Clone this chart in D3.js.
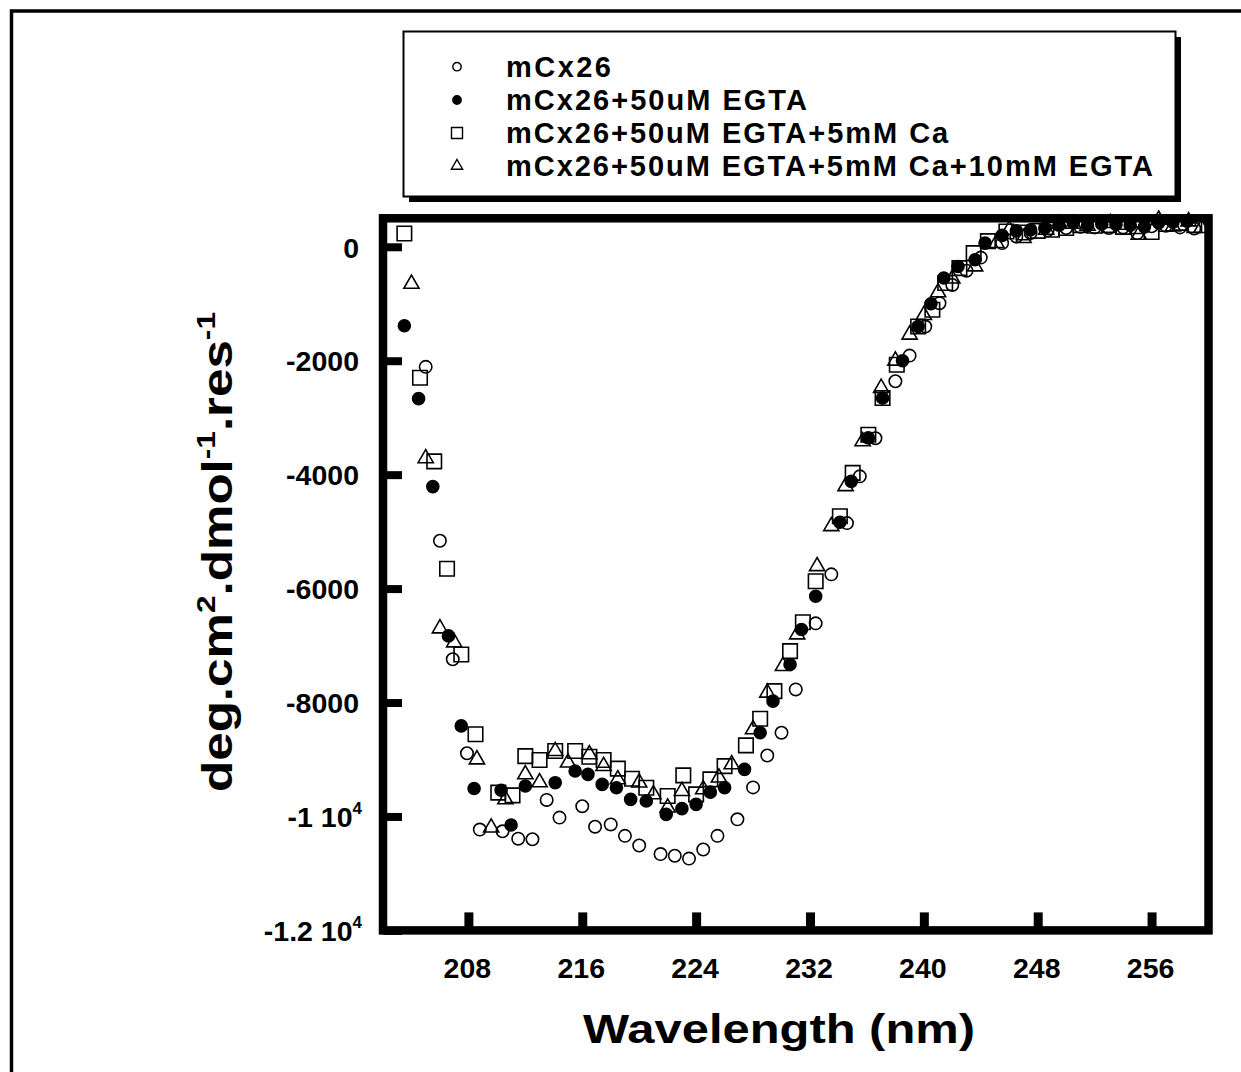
<!DOCTYPE html>
<html><head><meta charset="utf-8">
<script src="https://cdn.jsdelivr.net/npm/d3@7"></script>
<style>
html,body{margin:0;padding:0;background:#fff;}
svg{display:block;font-family:"Liberation Sans",Arial,Helvetica,sans-serif;font-weight:bold;}
</style></head><body>
<svg id="chart" width="1241" height="1072"></svg>
<script>
// CD spectra of mCx26 under four buffer conditions (mean residue ellipticity)
const seriesNames = [
  "mCx26",
  "mCx26+50uM EGTA",
  "mCx26+50uM EGTA+5mM Ca",
  "mCx26+50uM EGTA+5mM Ca+10mM EGTA"
];

const wlA = [205,206,206.9,207.9,208.8,210.4,211.5,212.5,213.5,214.4,216,216.9,218,219,220,221.5,222.5,223.5,224.5,225.5,226.9,228,229,230,231,232.4,233.5,234.6,235.5,236.6,238,239,240.1,241.1,242,243,244,245.5,246.5,247.5,248.7,250,251,252,253,254,255,256,257,258,259];
const valA = [-2108,-5160,-7240,-8890,-10230,-10260,-10390,-10400,-9710,-10020,-9820,-10180,-10140,-10340,-10510,-10660,-10690,-10740,-10580,-10340,-10050,-9490,-8930,-8530,-7770,-6610,-5750,-4850,-4030,-3360,-2360,-1910,-1400,-990,-670,-420,-190,65,180,240,290,330,350,340,330,340,240,360,370,340,320];

const wlB = [203.5,204.5,205.5,206.6,207.5,208.4,210.3,211,212,214.1,215.5,216.4,217.4,218.4,219.4,220.5,221.9,223,224,225,226,227.4,228.5,229.4,230.6,231.4,232.4,234.1,234.9,236.1,237.1,238.5,239.6,240.5,241.4,242.4,243.6,244.3,245.5,246.5,247.5,248.5,249.5,250.5,251.5,252.5,253.5,254.5,255.5,256.5,257.5,258.5];
const valB = [-1386,-2666,-4210,-6830,-8410,-9510,-9540,-10150,-9466,-9407,-9203,-9261,-9437,-9495,-9700,-9729,-9963,-9863,-9787,-9572,-9494,-9173,-8530,-7975,-7332,-6718,-6134,-4836,-4117,-3355,-2654,-2000,-1398,-1000,-549,-346,-228,65,200,280,300,330,380,420,380,400,390,380,350,420,430,450];

const wlC = [203.5,204.6,205.6,206.5,207.5,208.5,210.1,211.1,212,213,214.1,215.5,216.5,217.5,218.5,219.5,220.5,222,223.1,224,225,226,227.5,228.5,229.5,230.6,231.5,232.4,234.1,235,236.1,237.1,238.1,239.6,240.6,241.5,242.5,243.5,244.5,245.8,247,248,249,250,251,252,253,254,255,256,257,258,259];
const valC = [233,-2298,-3766,-5651,-7156,-8556,-9582,-9629,-8940,-9010,-8852,-8852,-8951,-9010,-9161,-9337,-9495,-9642,-9279,-9612,-9349,-9116,-8752,-8284,-7800,-7098,-6590,-5871,-4731,-3969,-3300,-2654,-2070,-1398,-1105,-637,-374,-111,100,268,250,280,300,330,380,370,380,350,360,260,400,420,380];

const wlD = [204,205,206,207,208.6,209.6,210.6,212,213,214.1,215,216.5,217.5,218.5,220,221,222,223,224.5,225.6,226.5,228,229,230.1,231.1,232.5,233.5,234.5,235.7,237,238,239,240,241,242,243.6,245.1,246,247,248.6,249.5,250.5,251.5,253.1,254,255.1,256.5,257.5,258.6,259.5];
const valD = [-652,-3713,-6700,-6946,-9000,-10196,-9700,-9261,-9402,-8852,-9056,-8910,-9116,-9349,-9407,-9612,-9845,-9554,-9524,-9319,-9086,-8472,-7828,-7362,-6806,-5608,-4906,-4204,-3415,-2478,-2000,-1544,-1200,-800,-560,-346,65,298,153,298,403,403,368,416,386,210,474,356,444,328];

const xTickValues = [208,216,224,232,240,248,256];
const yTickValues = [0,-2000,-4000,-6000,-8000,-10000,-12000];
const yTickLabels = ["0","-2000","-4000","-6000","-8000","-1 10^4","-1.2 10^4"];

const xTitle = "Wavelength (nm)";
// y title pieces: [text, isSuperscript]
const yTitleParts = [["deg.cm",false],["2",true],[".dmol",false],["-1",true],[".res",false],["-1",true]];

const svg = d3.select("#chart");

const x = d3.scaleLinear().domain([202, 260]).range([383, 1208.5]);
const y = d3.scaleLinear().domain([-12000, 500]).range([930.4, 218.3]);

// outer frame of the figure
svg.append("rect").attr("x", 11.5).attr("y", 11).attr("width", 1400).attr("height", 1400)
  .attr("fill", "none").attr("stroke", "#000").attr("stroke-width", 3.5);

// set the rendered length of a text element
function fitLength(sel, len, mode) {
  sel.attr("textLength", len).attr("lengthAdjust", mode || "spacing");
}

// data
const symGen = {
  circle: d3.symbol().type(d3.symbolCircle).size(Math.PI * 6.2 * 6.2),
  filled: d3.symbol().type(d3.symbolCircle).size(Math.PI * 6 * 6),
  square: d3.symbol().type(d3.symbolSquare).size(14.5 * 14.5),
  triangle: d3.symbol().type(d3.symbolTriangle).size(100)
};
const series = [
  {wl: wlA, val: valA, sym: "circle", fill: "none"},
  {wl: wlB, val: valB, sym: "filled", fill: "#000"},
  {wl: wlC, val: valC, sym: "square", fill: "none"},
  {wl: wlD, val: valD, sym: "triangle", fill: "none"}
];

const plot = svg.append("g");
series.forEach(s => {
  const pts = s.wl.map((w, i) => [w, s.val[i]]);
  plot.selectAll(null).data(pts).enter().append("path")
    .attr("d", symGen[s.sym]())
    .attr("transform", d => `translate(${x(d[0])},${y(d[1])})`)
    .attr("fill", s.fill).attr("stroke", "#000").attr("stroke-width", 1.6);
});

// axes with inward ticks
const yAxis = d3.axisLeft(y).tickValues(yTickValues).tickSizeInner(-19).tickSizeOuter(0).tickPadding(20)
  .tickFormat(() => "");
const gy = svg.append("g").attr("transform", "translate(383,0)").call(yAxis);
gy.select(".domain").remove();
gy.selectAll(".tick line").attr("stroke", "#000").attr("stroke-width", 8);

gy.selectAll(".tick text").each(function(d, i) {
  const parts = yTickLabels[i].split("^");
  const t = d3.select(this).attr("font-size", 28.5).attr("font-family", null).attr("fill", "#000")
    .attr("x", parts[1] ? -21 : -24).attr("dy", "0.36em").attr("text-anchor", "end");
  t.append("tspan").text(parts[0]);
  if (parts[1]) {
    t.append("tspan").text(parts[1]).attr("font-size", 17).attr("dy", -13);
  }
});

const xAxis = d3.axisBottom(x).tickValues(xTickValues).tickSizeInner(-18).tickSizeOuter(0).tickPadding(26);
const gx = svg.append("g").attr("transform", "translate(0,930.4)").call(xAxis);
gx.select(".domain").remove();
gx.selectAll(".tick line").attr("stroke", "#000").attr("stroke-width", 9);
gx.selectAll(".tick text").attr("font-size", 28.5).attr("font-family", null).attr("fill", "#000")
  .attr("x", -1.5).attr("y", 48).attr("dy", 0);

// plot frame
svg.append("rect").attr("x", x(202)).attr("y", y(500))
  .attr("width", x(260) - x(202)).attr("height", y(-12000) - y(500))
  .attr("fill", "none").attr("stroke", "#000").attr("stroke-width", 8.5);

// axis titles
const xt = svg.append("text").attr("x", 779).attr("y", 1043).attr("text-anchor", "middle")
  .attr("font-size", 41).text(xTitle);
fitLength(xt, 392, "spacingAndGlyphs");

const yt = svg.append("text").attr("transform", "translate(232,552) rotate(-90)")
  .attr("text-anchor", "middle").attr("font-size", 42);
yTitleParts.forEach((p, i) => {
  const ts = yt.append("tspan").text(p[0]);
  if (p[1]) ts.attr("font-size", 26).attr("dy", -17);
  else ts.attr("font-size", 42).attr("dy", i === 0 ? 0 : 17);
});
fitLength(yt, 480, "spacingAndGlyphs");

// legend box with drop shadow
const lg = svg.append("g");
lg.append("rect").attr("x", 409).attr("y", 37).attr("width", 772).attr("height", 165).attr("fill", "#000");
lg.append("rect").attr("x", 403.5).attr("y", 31.5).attr("width", 772).attr("height", 165)
  .attr("fill", "#fff").attr("stroke", "#000").attr("stroke-width", 2);

const legSym = {
  circle: d3.symbol().type(d3.symbolCircle).size(Math.PI * 4.2 * 4.2),
  filled: d3.symbol().type(d3.symbolCircle).size(Math.PI * 4.2 * 4.2),
  square: d3.symbol().type(d3.symbolSquare).size(11 * 11),
  triangle: d3.symbol().type(d3.symbolTriangle).size(55)
};
const rowY = [66.7, 100, 133, 166];
series.forEach((s, i) => {
  lg.append("path").attr("d", legSym[s.sym]())
    .attr("transform", `translate(457,${rowY[i]})`)
    .attr("fill", s.fill).attr("stroke", "#000").attr("stroke-width", 1.4);
  const t = lg.append("text").attr("x", 506).attr("y", rowY[i] + 10).attr("font-size", 29)
    .text(seriesNames[i]);
  const w = t.node().getComputedTextLength();
  fitLength(t, w * 32 / 29);
});
</script>
</body></html>
